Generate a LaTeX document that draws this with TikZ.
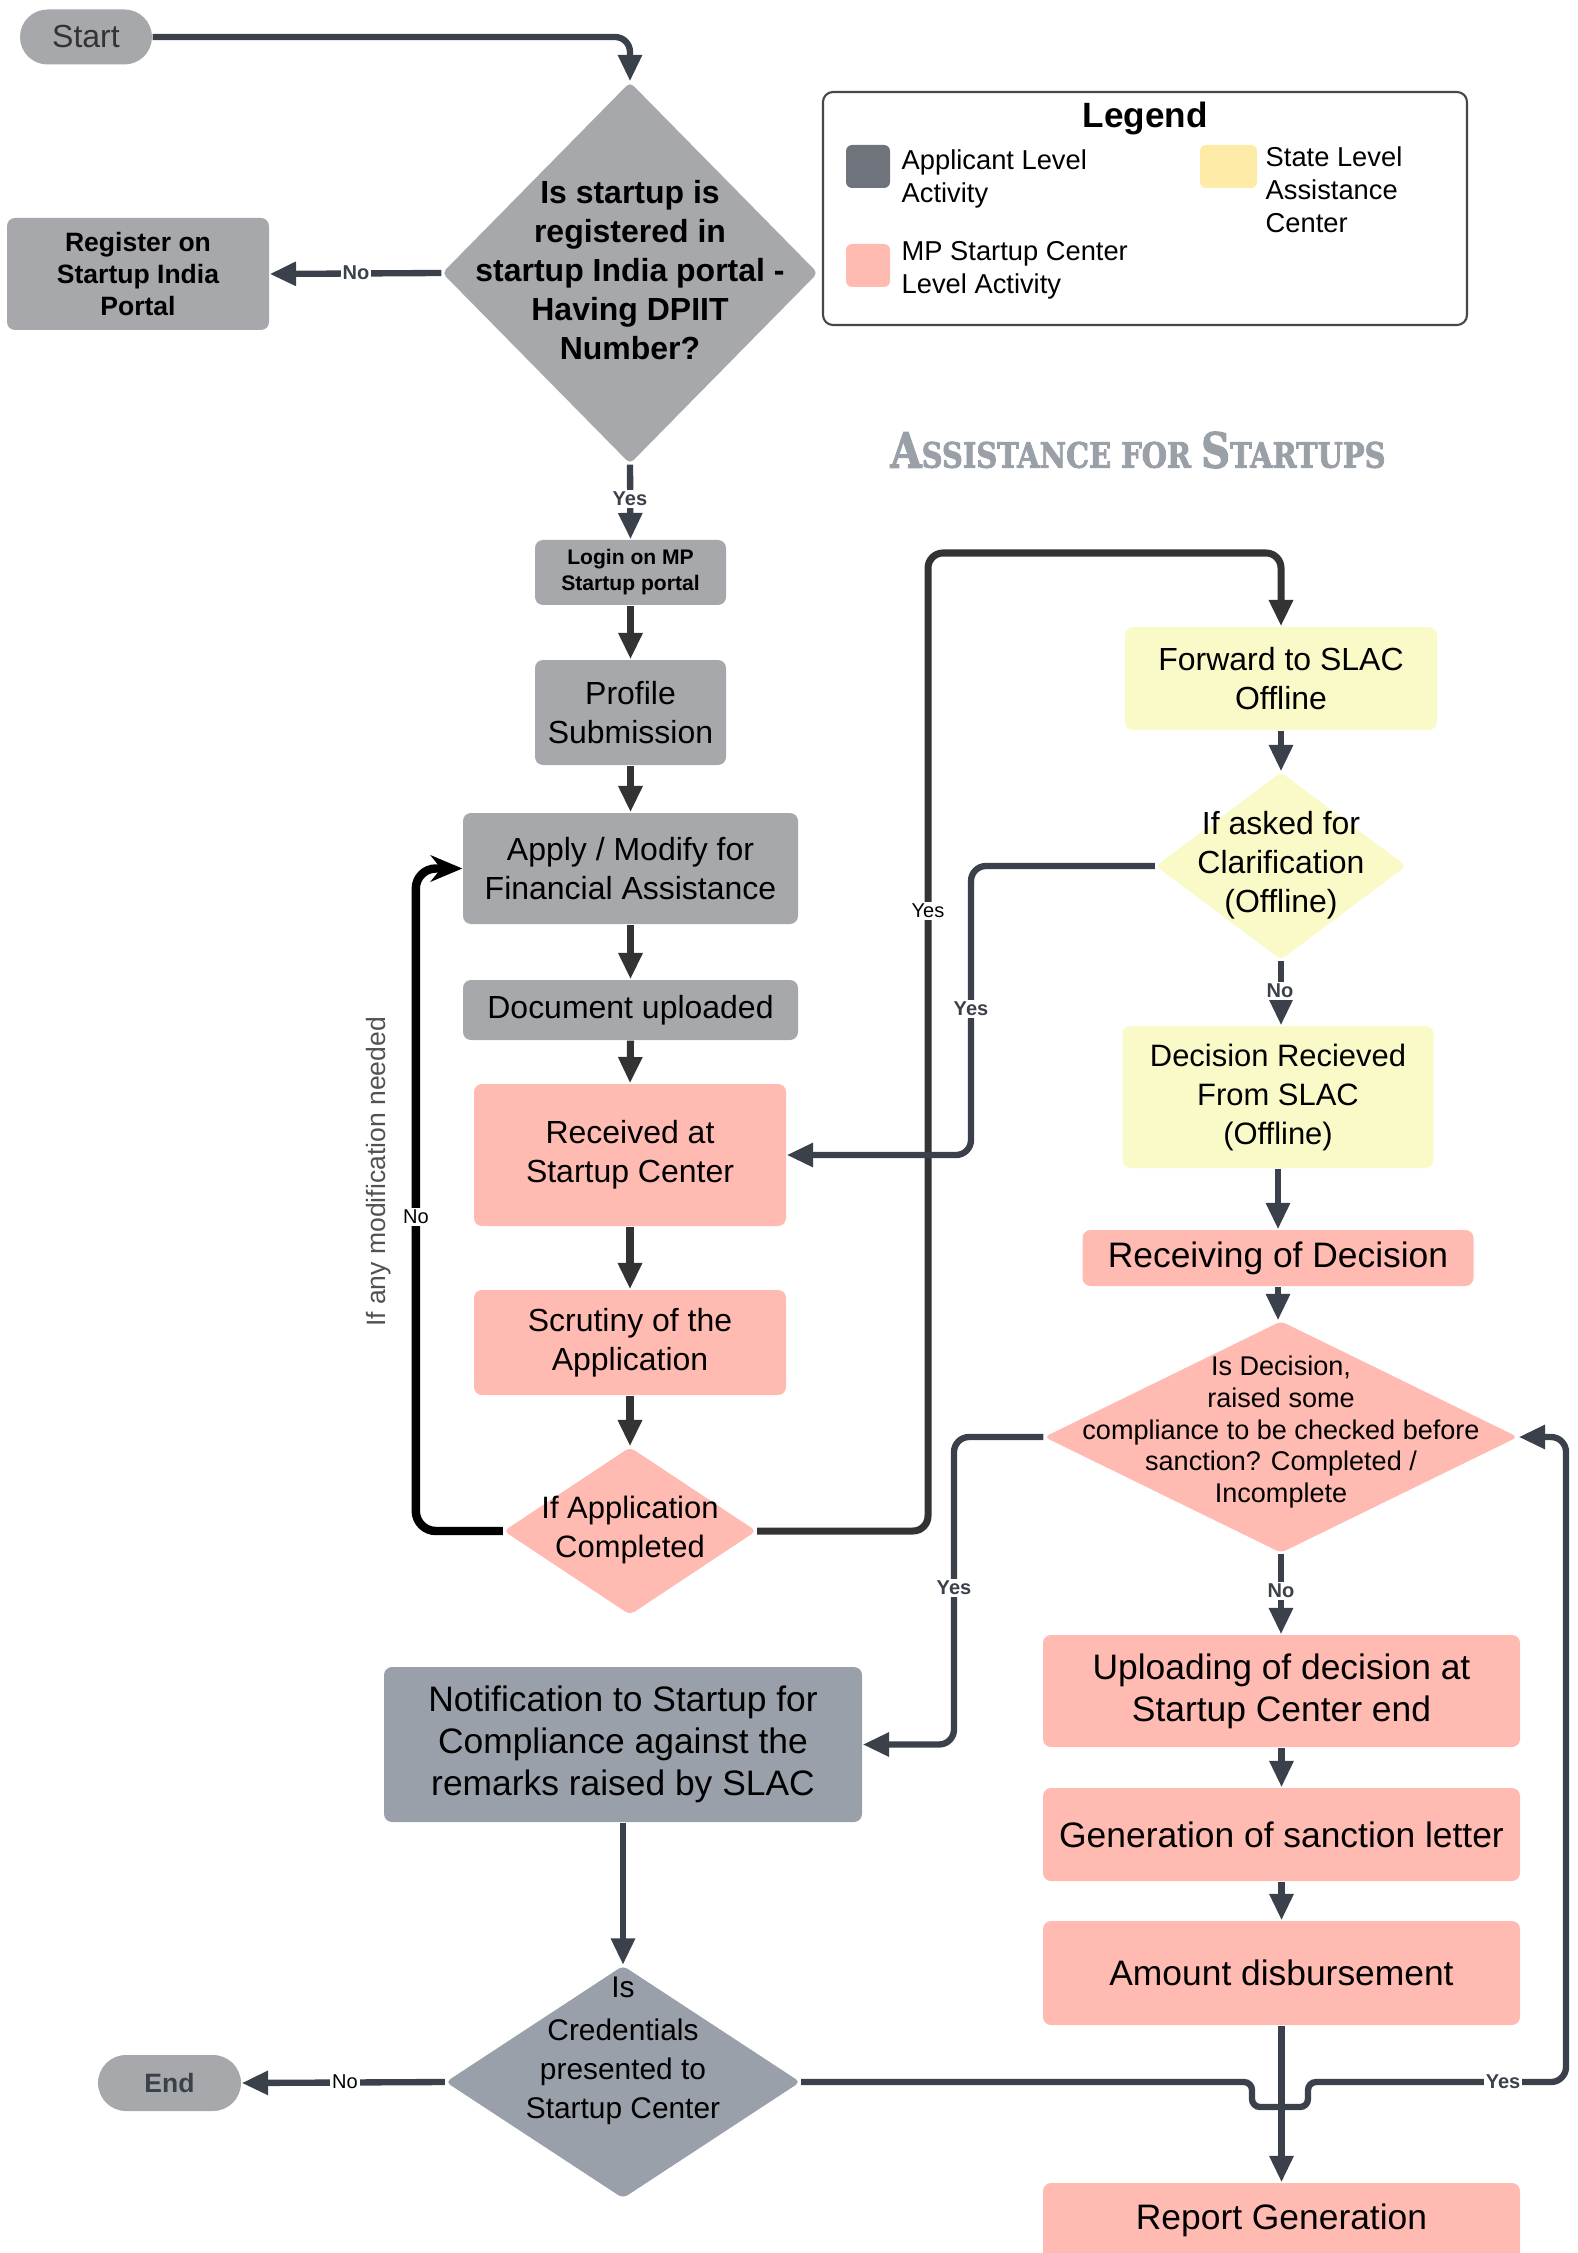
\documentclass[tikz,border=0pt]{standalone}
\usepackage{fontspec}
\setmainfont{Liberation Sans}
\newfontfamily\ttlfont[BoldFeatures={FakeBold=2.5}]{DejaVu Serif}
\usepackage{graphicx}
\usetikzlibrary{shapes.geometric,arrows.meta}
\definecolor{cA}{HTML}{A7A8AB}
\definecolor{cB}{HTML}{9AA0A9}
\definecolor{cP}{HTML}{FFBBB1}
\definecolor{cY}{HTML}{FAFAC8}
\definecolor{cYs}{HTML}{FFEBA8}
\definecolor{cD}{HTML}{6F747C}
\definecolor{cL}{HTML}{3B414A}
\definecolor{cK}{HTML}{333333}
\definecolor{cT}{HTML}{9AA0A8}
\newcommand\fmain{\fontsize{9.1pt}{11.1pt}\selectfont}
\newcommand\fbig{\fontsize{10.07pt}{11.95pt}\selectfont}
\newcommand\freg{\fontsize{7.55pt}{9.1pt}\selectfont}
\newcommand\flog{\fontsize{6pt}{7.4pt}\selectfont}
\newcommand\fdec{\fontsize{7.7pt}{9.1pt}\selectfont}
\newcommand\fleg{\fontsize{7.77pt}{9.4pt}\selectfont}
\newcommand\flab{\fontsize{5.7pt}{6.5pt}\selectfont}
\newcommand\fcred{\fontsize{8.5pt}{11.1pt}\selectfont}
\newcommand\fdia{\fontsize{8.8pt}{11.1pt}\selectfont}
\begin{document}
\begin{tikzpicture}[x=0.1mm,y=-0.1mm,
  box/.style={rectangle, rounded corners=0.8mm, inner sep=0pt, align=center, font=\fmain},
  dia/.style={diamond, inner sep=0pt, rounded corners=0.5mm},
  dtext/.style={inner sep=0pt, align=center},
  ln/.style={draw=cL, line width=1.8pt, rounded corners=1.5mm},
  lnk/.style={draw=cK, line width=2pt, rounded corners=1.5mm},
  arw/.style={-{Triangle[length=7.5pt,width=6.5pt]}},
  lbl/.style={fill=white, inner sep=0.6pt, font=\flab\bfseries, text=cL},
  lbn/.style={fill=white, inner sep=0.6pt, font=\flab, text=black},
  sw/.style={rectangle, rounded corners=0.6mm, inner sep=0pt, minimum height=4.3mm}
]
\useasboundingbox (0,0) rectangle (1578,2253);
\clip (0,0) rectangle (1578,2253);

% ---- nodes ----
\node[box, fill=cA, rounded corners=2.75mm, minimum width=13.2mm, minimum height=5.5mm, text=cK] (start) at (86,37) {Start};
\node[dia, fill=cA, minimum width=37.6mm, minimum height=38.2mm] (d1) at (630,273) {};
\node[dtext, font=\fmain\bfseries] (d1t) at (630,270) {Is startup is\\registered in\\startup India portal -\\Having DPIIT\\Number?};
\node[box, fill=cA, font=\freg\bfseries, minimum width=26.2mm, minimum height=11.2mm] (reg) at (138,274) {Register on\\Startup India\\Portal};

\node[rectangle, draw=cK!90, line width=0.6pt, rounded corners=1mm, minimum width=64.4mm, minimum height=23.3mm, inner sep=0pt] (legend) at (1145,208.5) {};
\node[inner sep=0pt, font=\fontsize{10pt}{12pt}\selectfont\bfseries] (legt) at (1145,118) {Legend};
\node[sw, fill=cD, minimum width=4.4mm] (swA) at (868,166.5) {};
\node[sw, fill=cP, minimum width=4.4mm] (swP) at (868,265.5) {};
\node[sw, fill=cYs, minimum width=5.7mm] (swY) at (1228.5,166.5) {};
\node[anchor=west, align=left, inner sep=0pt, font=\fleg] (tA) at (901,179) {Applicant Level\\Activity};
\node[anchor=west, align=left, inner sep=0pt, font=\fleg] (tP) at (901,270) {MP Startup Center\\Level Activity};
\node[anchor=west, align=left, inner sep=0pt, font=\fleg] (tY) at (1265,190) {State Level\\Assistance\\Center};

\node[inner sep=0pt, text=cT] (title) at (1138,450) {\resizebox{49.5mm}{3.6mm}{\ttlfont\bfseries\fontsize{10pt}{12pt}\selectfont A{\fontsize{7.2pt}{8pt}\selectfont SSISTANCE FOR }S{\fontsize{7.2pt}{8pt}\selectfont TARTUPS}}};

\node[box, fill=cA, font=\flog\bfseries, minimum width=19.1mm, minimum height=6.5mm] (login) at (630.5,572.5) {Login on MP\\Startup portal};
\node[box, fill=cA, minimum width=19.1mm, minimum height=10.5mm] (profile) at (630.5,712.5) {Profile\\Submission};
\node[box, fill=cA, minimum width=33.5mm, minimum height=11.1mm] (apply) at (630.5,868.5) {Apply / Modify for\\Financial Assistance};
\node[box, fill=cA, minimum width=33.5mm, minimum height=6mm] (doc) at (630.5,1010) {Document uploaded};
\node[box, fill=cP, minimum width=31.2mm, minimum height=14.2mm] (rec) at (630,1155) {Received at\\Startup Center};
\node[box, fill=cP, minimum width=31.2mm, minimum height=10.5mm] (scr) at (630,1342.5) {Scrutiny of the\\Application};
\node[dia, fill=cP, minimum width=25.3mm, minimum height=16.8mm] (d2) at (630,1531) {};
\node[dtext, font=\fdia] (d2t) at (630,1530) {If Application\\Completed};

\node[box, fill=cY, minimum width=31.2mm, minimum height=10.3mm] (fwd) at (1281,678.5) {Forward to SLAC\\Offline};
\node[dia, fill=cY, minimum width=25.1mm, minimum height=18.8mm] (d3) at (1281,866) {};
\node[dtext, font=\fmain] (d3t) at (1281,865) {If asked for\\Clarification\\(Offline)};
\node[box, fill=cY, font=\fdia, minimum width=31.1mm, minimum height=14.2mm] (dec) at (1278,1097) {Decision Recieved\\From SLAC\\(Offline)};
\node[box, fill=cP, font=\fbig, minimum width=39.1mm, minimum height=5.6mm] (recv) at (1278,1258) {Receiving of Decision};
\node[dia, fill=cP, minimum width=47.4mm, minimum height=23.2mm] (d4) at (1281,1437) {};
\node[dtext, font=\fdec] (d4t) at (1281,1432) {Is Decision,\\raised some\\compliance to be checked before\\sanction? Completed /\\Incomplete};
\node[box, fill=cP, font=\fbig, minimum width=47.7mm, minimum height=11.2mm] (upl) at (1281.5,1691) {Uploading of decision at\\Startup Center end};
\node[box, fill=cP, font=\fbig, minimum width=47.7mm, minimum height=9.3mm] (gen) at (1281.5,1834.5) {Generation of sanction letter};
\node[box, fill=cP, font=\fbig, minimum width=47.7mm, minimum height=10.4mm] (amt) at (1281.5,1973) {Amount disbursement};
\node[box, fill=cP, font=\fbig, minimum width=47.7mm, minimum height=7.7mm] (rep) at (1281.5,2221.5) {\raisebox{1mm}{Report Generation}};

\node[box, fill=cB, font=\fbig, minimum width=47.8mm, minimum height=15.5mm] (notif) at (623,1744.5) {Notification to Startup for\\Compliance against the\\remarks raised by SLAC};
\node[dia, fill=cB, minimum width=35.5mm, minimum height=23.3mm] (d5) at (623,2082) {};
\node[dtext, font=\fcred] (d5t) at (623,2051) {Is\\[0.4mm]Credentials\\presented to\\Startup Center};
\node[box, fill=cA, rounded corners=2.8mm, font=\freg\bfseries, text=cL, minimum width=14.3mm, minimum height=5.6mm] (end) at (169.5,2083) {End};

\node[rotate=90, inner sep=0pt, font=\freg, text=cK!85] (modt) at (379,1172) {If any modification needed};

% ---- connectors ----
\draw[ln,arw] (start.east) -| (d1.north);
\draw[ln,arw] (d1.west) -- (reg.east);
\node[lbl] (lb1) at (356,273) {No};
\draw[ln,arw] (d1.south) -- (login.north);
\node[lbl] (lb2) at (630,499) {Yes};
\draw[lnk,arw] (login.south) -- (profile.north);
\draw[lnk,arw] (profile.south) -- (apply.north);
\draw[lnk,arw] (apply.south) -- (doc.north);
\draw[lnk,arw] (doc.south) -- (rec.north);
\draw[lnk,arw] (rec.south) -- (scr.north);
\draw[lnk,arw] (scr.south) -- (d2.north);

\draw[draw=black, line width=2.4pt, rounded corners=2mm, -{Stealth[length=9pt,width=7.5pt]}] (d2.west) -- ++(-87,0) |- (apply.west);
\node[lbn] (lb3) at (416,1217) {No};

\coordinate (cy) at (928,553);
\draw[lnk,arw] (d2.east) -| (cy) -| (fwd.north);
\node[lbn] (lb4) at (928,911) {Yes};

\draw[ln,arw] (fwd.south) -- (d3.north);
\coordinate (cz) at (971,1155);
\draw[ln,arw] (d3.west) -| (cz) -- (rec.east);
\node[lbl] (lb5) at (971,1009) {Yes};
\draw[ln,arw] (d3.south) -- (d3.south |- dec.north);
\node[lbl] (lb6) at (1280,991) {No};
\draw[ln,arw] (dec.south) -- (recv.north);
\draw[ln,arw] (recv.south) -- (recv.south |- d4.north);

\coordinate (cw) at (954,1744.5);
\draw[ln,arw] (d4.west) -| (cw) -- (notif.east);
\node[lbl] (lb7) at (954,1588) {Yes};
\draw[ln,arw] (d4.south) -- (d4.south |- upl.north);
\node[lbl] (lb8) at (1281,1591) {No};
\draw[ln,arw] (upl.south) -- (gen.north);
\draw[ln,arw] (gen.south) -- (amt.north);
\draw[ln,arw] (amt.south) -- (rep.north);

\draw[ln,arw] (notif.south) -- (notif.south |- d5.north);
\draw[ln,arw] (d5.west) -- (end.east);
\node[lbn] (lb9) at (345,2082) {No};

\draw[ln,arw,rounded corners=0.8mm] (d5.east) -- (1252,2082) -- (1252,2107) -- (1308,2107) -- (1308,2082) [rounded corners=1.5mm] -- (1566,2082) -- (1566,1437) -- (d4.east);
\node[lbl] (lb10) at (1503,2082) {Yes};
\end{tikzpicture}
\end{document}
